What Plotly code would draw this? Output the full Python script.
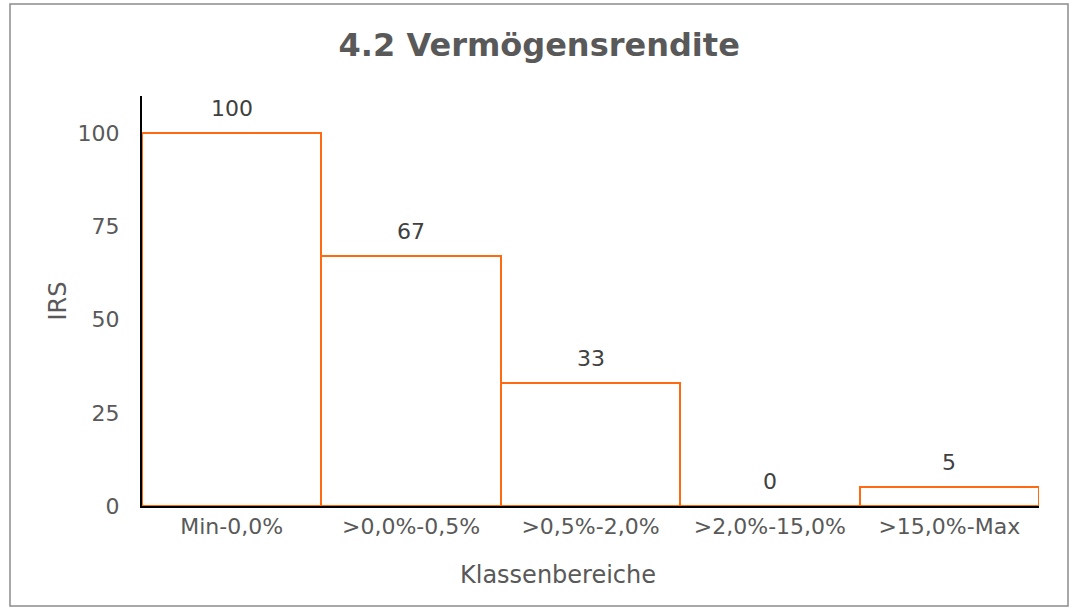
import plotly.graph_objects as go

categories = ["Min-0,0%", ">0,0%-0,5%", ">0,5%-2,0%", ">2,0%-15,0%", ">15,0%-Max"]
values = [100, 67, 33, 0, 5]
y_ticks = [0, 25, 50, 75, 100]

TEXT = "#595959"
ORANGE = "#FF6A10"
FONT = "Verdana, DejaVu Sans, sans-serif"

fig = go.Figure()
fig.add_trace(go.Bar(
    x=categories, y=values,
    marker=dict(color="white", line=dict(color=ORANGE, width=2)),
    hoverinfo="x+y",
))

annotations = []
for c, v in zip(categories, values):
    annotations.append(dict(
        x=c, y=v, xref="x", yref="y", text=str(v), showarrow=False,
        yanchor="bottom", yshift=10, font=dict(family=FONT, size=22, color="#404040"),
    ))
# x-axis title (offset left of the plot-area centre, as in the reference)
annotations.append(dict(
    x=(558 - 142) / 897, y=(506 - 575) / 410, xref="paper", yref="paper",
    text="Klassenbereiche", showarrow=False, xanchor="center", yanchor="middle",
    font=dict(family=FONT, size=24, color=TEXT),
))

fig.update_layout(
    width=1072, height=608,
    paper_bgcolor="white", plot_bgcolor="white",
    margin=dict(l=142, r=33, t=96, b=102),
    bargap=0,
    showlegend=False,
    title=dict(text="<b>4.2 Vermögensrendite</b>", x=0.503, xanchor="center",
               y=1 - 45 / 608, yanchor="middle", yref="container",
               font=dict(family=FONT, size=32, color=TEXT)),
    annotations=annotations,
    shapes=[dict(type="rect", xref="paper", yref="paper",
                 x0=(10 - 142) / 897, x1=(1068 - 142) / 897,
                 y0=(506 - 606) / 410, y1=(506 - 4) / 410,
                 line=dict(color="#8C8C8C", width=1.5), fillcolor="rgba(0,0,0,0)", layer="below")],
)

fig.update_xaxes(
    showline=True, linecolor="black", linewidth=2, showgrid=False, ticks="",
    tickfont=dict(family=FONT, size=22, color=TEXT),
)
fig.update_yaxes(
    range=[0, 110], tickvals=y_ticks, ticktext=[str(t) for t in y_ticks],
    showline=True, linecolor="black", linewidth=2, showgrid=False, zeroline=False,
    ticks="outside", ticklen=16, tickcolor="rgba(0,0,0,0)",
    tickfont=dict(family=FONT, size=22, color=TEXT),
    title=dict(text="IRS", font=dict(family=FONT, size=24, color=TEXT), standoff=4),
)

fig.write_html("out.html", config={"displayModeBar": False},
               post_script="document.body.style.margin='0';document.body.style.overflow='hidden';")
